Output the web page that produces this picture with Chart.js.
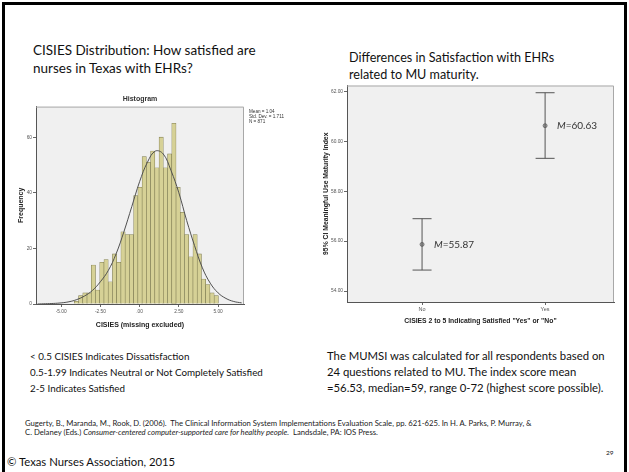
<!DOCTYPE html>
<html>
<head>
<meta charset="utf-8">
<script src="https://cdn.jsdelivr.net/npm/chart.js@4.4.0/dist/chart.umd.min.js"></script>
<style>
  body { margin: 0; width: 629px; height: 472px; position: relative; overflow: hidden; background: #fff; font-family: Lato, "Open Sans", sans-serif; }
  .slide { position: absolute; left: 2px; top: 2px; width: 625px; height: 520px; border: 3px solid #000; box-sizing: border-box; }
  .t { position: absolute; white-space: nowrap; color: #111; }
  .cite { font-size: 7.7px; line-height: 9px; color: #222; }
  #histWrap { position: absolute; left: 0; top: 60px; width: 315px; height: 280px; }
  #ciWrap { position: absolute; left: 315px; top: 75px; width: 314px; height: 265px; }
</style>
</head>
<body>
<div class="slide"></div>

<div class="t" style="left:33px;top:42px;font-size:13.5px;line-height:16px">CISIES Distribution: How satisfied are</div>
<div class="t" style="left:33px;top:60px;font-size:13.5px;line-height:16px">nurses in Texas with EHRs?</div>
<div class="t" style="left:349px;top:50px;font-size:12.6px;line-height:15px">Differences in Satisfaction with EHRs</div>
<div class="t" style="left:349px;top:67px;font-size:12.6px;line-height:15px">related to MU maturity.</div>

<div id="histWrap"><canvas id="histChart" width="315" height="280"></canvas></div>
<div id="ciWrap"><canvas id="ciChart" width="314" height="265"></canvas></div>

<div class="t" style="left:30px;top:350px;font-size:9.8px;line-height:12px">&lt; 0.5 CISIES Indicates Dissatisfaction</div>
<div class="t" style="left:30px;top:366px;font-size:9.8px;line-height:12px">0.5-1.99 Indicates Neutral or Not Completely Satisfied</div>
<div class="t" style="left:30px;top:382px;font-size:9.8px;line-height:12px">2-5 Indicates Satisfied</div>

<div class="t" style="left:327px;top:349px;font-size:11.3px;line-height:13px">The MUMSI was calculated for all respondents based on</div>
<div class="t" style="left:327px;top:365px;font-size:11.3px;line-height:13px">24 questions related to MU. The index score mean</div>
<div class="t" style="left:327px;top:381px;font-size:11.3px;line-height:13px">=56.53, median=59, range 0-72 (highest score possible).</div>

<div class="t cite" style="left:25px;top:419px">Gugerty, B., Maranda, M., Rook, D. (2006).&nbsp; The Clinical Information System Implementations Evaluation Scale, pp. 621-625. In H. A. Parks, P. Murray, &amp;</div>
<div class="t cite" style="left:25px;top:428px">C. Delaney (Eds.) <i>Consumer-centered computer-supported care for healthy people.</i>&nbsp; Landsdale, PA: IOS Press.</div>

<div class="t" style="left:606px;top:449px;font-size:6.5px">29</div>
<div class="t" style="left:7px;top:455px;font-size:11.3px">&copy; Texas Nurses Association, 2015</div>

<script>
// ---- histogram data (CISIES, missing excluded) ----
var binStart = -4.16;
var binWidth = 0.27;
var binCounts = [1, 3, 4, 4, 14, 5, 15, 16, 8, 18, 15, 26, 25, 25, 39, 42, 53, 51, 55, 49, 60, 49, 54, 65, 42, 33, 25, 17, 25, 18, 9, 7, 4, 3];
var histTicksX = [-5, -2.5, 0, 2.5, 5];
var histTicksY = [0, 20, 40, 60];
var statLines = ['Mean = 1.04', 'Std. Dev. = 1.711', 'N = 871'];

// normal curve
var curveX = [-6.5, -6, -5.5, -5, -4.5, -4, -3.5, -3, -2.5, -2, -1.5, -1, -0.5, 0, 0.5, 1, 1.5, 2, 2.5, 3, 3.5, 4, 4.5, 5, 5.5, 6, 6.5];
var curveY = [0, 0.1, 0.2, 0.4, 0.8, 1.6, 2.9, 4.9, 8, 12, 18, 26, 35, 44, 51, 55, 54, 48, 40, 30, 21, 13, 7.5, 4, 2, 0.9, 0.4];

// ---- error bar data (95% CI of MU maturity index) ----
var groups = ['No', 'Yes'];
var means = [55.87, 60.63];
var ciLow = [54.84, 59.32];
var ciHigh = [56.90, 61.95];
var ciTicksY = [54, 56, 58, 60, 62];

var spssFont = '"Liberation Sans", Arial, sans-serif';

// light grey plot area with a thin frame, like SPSS output
var plotFrame = {
    id: 'plotFrame',
    beforeDraw: function (chart) {
        var a = chart.chartArea, ctx = chart.ctx;
        ctx.save();
        ctx.fillStyle = '#f0f0f0';
        ctx.fillRect(a.left, a.top, a.right - a.left, a.bottom - a.top);
        ctx.restore();
    },
    afterDraw: function (chart) {
        var a = chart.chartArea, ctx = chart.ctx;
        ctx.save();
        ctx.strokeStyle = '#a8a8a8';
        ctx.lineWidth = 1;
        ctx.beginPath();
        ctx.moveTo(a.left, a.top + 0.5);
        ctx.lineTo(a.right - 0.5, a.top + 0.5);
        ctx.lineTo(a.right - 0.5, a.bottom);
        ctx.stroke();
        ctx.restore();
    }
};

// "Histogram" title and the stats box
var histText = {
    id: 'histText',
    afterDraw: function (chart) {
        var a = chart.chartArea, ctx = chart.ctx;
        ctx.save();
        ctx.fillStyle = '#333';
        ctx.textAlign = 'center';
        ctx.textBaseline = 'middle';
        ctx.font = 'bold 7px ' + spssFont;
        ctx.fillText('Histogram', (a.left + a.right) / 2, a.top - 8);
        ctx.textAlign = 'left';
        ctx.font = '4.6px ' + spssFont;
        statLines.forEach(function (s, i) {
            ctx.fillText(s, a.right + 5, a.top + 5 + i * 5);
        });
        ctx.restore();
    }
};

// M=xx.xx labels next to the means
var meanLabels = {
    id: 'meanLabels',
    afterDatasetsDraw: function (chart) {
        var ctx = chart.ctx, xs = chart.scales.x, ys = chart.scales.y;
        ctx.save();
        ctx.fillStyle = '#333';
        ctx.textBaseline = 'middle';
        means.forEach(function (m, i) {
            var px = xs.getPixelForValue(i + 1) + 12;
            var py = ys.getPixelForValue(m);
            ctx.font = 'italic 10px Lato, sans-serif';
            ctx.fillText('M', px, py);
            var w = ctx.measureText('M').width;
            ctx.font = '10px Lato, sans-serif';
            ctx.fillText('=' + m.toFixed(2), px + w, py);
        });
        ctx.restore();
    }
};

function fixTicks(list) {
    return function (scale) {
        scale.ticks = list.map(function (v) { return { value: v }; });
    };
}

function fmt2(v) {
    var s = Math.abs(v).toFixed(2);
    if (s.charAt(0) === '0') s = s.slice(1);
    return (v < 0 ? '-' : '') + s;
}

var histPoints = binCounts.map(function (c, i) {
    return { x: binStart + binWidth * (i + 0.5), y: c };
});
var curvePoints = curveX.map(function (x, i) {
    return { x: x, y: curveY[i] };
});

new Chart(document.getElementById('histChart'), {
    type: 'bar',
    data: {
        datasets: [{
            type: 'line',
            data: curvePoints,
            borderColor: '#505050',
            borderWidth: 1,
            pointRadius: 0,
            tension: 0.4,
            order: 0
        }, {
            type: 'bar',
            data: histPoints,
            backgroundColor: 'rgb(214, 209, 150)',
            borderColor: 'rgb(125, 122, 80)',
            borderWidth: 0.6,
            barPercentage: 1,
            categoryPercentage: 1,
            order: 1
        }]
    },
    options: {
        responsive: false,
        animation: false,
        devicePixelRatio: 1,
        layout: { padding: { left: 0, top: 46.6, right: 71, bottom: 0 } },
        plugins: { legend: { display: false }, tooltip: { enabled: false } },
        scales: {
            x: {
                type: 'linear',
                min: -6.6,
                max: 6.65,
                offset: false,
                afterBuildTicks: fixTicks(histTicksX),
                afterFit: function (s) { s.height = 36; },
                grid: { offset: false, drawOnChartArea: false, drawTicks: true, tickLength: 3, color: '#666' },
                border: { display: true, color: '#555', width: 1 },
                ticks: { padding: 2, color: '#555', font: { size: 4.8, family: spssFont }, maxRotation: 0, callback: fmt2 },
                title: { display: true, text: 'CISIES (missing excluded)', color: '#222',
                    font: { size: 7, weight: 'bold', family: spssFont }, padding: { top: 0, bottom: 11 } }
            },
            y: {
                min: 0,
                max: 71,
                afterBuildTicks: fixTicks(histTicksY),
                afterFit: function (s) { s.width = 36; },
                grid: { drawOnChartArea: false, drawTicks: true, tickLength: 3, color: '#666' },
                border: { display: true, color: '#555', width: 1 },
                ticks: { padding: 1, color: '#555', font: { size: 4.8, family: spssFont } },
                title: { display: true, text: 'Frequency', color: '#222',
                    font: { size: 7, weight: 'bold', family: spssFont }, padding: { top: 17, bottom: 0 } }
            }
        }
    },
    plugins: [plotFrame, histText]
});

var ciDatasets = groups.map(function (g, i) {
    return {
        type: 'line',
        data: [{ x: i + 1, y: ciLow[i] }, { x: i + 1, y: ciHigh[i] }],
        borderColor: '#555',
        borderWidth: 1,
        pointRadius: 0
    };
});
ciDatasets.push({
    type: 'scatter',
    data: groups.map(function (g, i) { return { x: i + 1, y: ciLow[i] }; })
        .concat(groups.map(function (g, i) { return { x: i + 1, y: ciHigh[i] }; })),
    pointStyle: 'line',
    pointRadius: 9.5,
    borderColor: '#555',
    borderWidth: 1
});
ciDatasets.push({
    type: 'scatter',
    data: means.map(function (m, i) { return { x: i + 1, y: m }; }),
    pointStyle: 'circle',
    pointRadius: 2,
    backgroundColor: '#a0a0a0',
    borderColor: '#666',
    borderWidth: 0.8
});

new Chart(document.getElementById('ciChart'), {
    type: 'scatter',
    data: { datasets: ciDatasets },
    options: {
        responsive: false,
        animation: false,
        devicePixelRatio: 1,
        layout: { padding: { left: 0, top: 10, right: 15, bottom: 0 } },
        plugins: { legend: { display: false }, tooltip: { enabled: false } },
        scales: {
            x: {
                type: 'linear',
                min: 0.39,
                max: 2.56,
                afterBuildTicks: fixTicks([1, 2]),
                afterFit: function (s) { s.height = 38; },
                grid: { drawOnChartArea: false, drawTicks: true, tickLength: 3, color: '#666' },
                border: { display: true, color: '#555', width: 1 },
                ticks: { padding: 1, color: '#555', font: { size: 5.5, family: spssFont },
                    callback: function (v) { return groups[v - 1]; } },
                title: { display: true, text: 'CISIES 2 to 5 Indicating Satisfied "Yes" or "No"', color: '#222',
                    font: { size: 6.8, weight: 'bold', family: spssFont }, padding: { top: 0, bottom: 15 } }
            },
            y: {
                min: 53.56,
                max: 62.24,
                afterBuildTicks: fixTicks(ciTicksY),
                afterFit: function (s) { s.width = 32; },
                grid: { drawOnChartArea: false, drawTicks: true, tickLength: 3, color: '#666' },
                border: { display: true, color: '#555', width: 1 },
                ticks: { padding: 1, color: '#555', font: { size: 4.8, family: spssFont },
                    callback: function (v) { return v.toFixed(2); } },
                title: { display: true, text: '95% CI Meaningful Use Maturity Index', color: '#222',
                    font: { size: 6.8, weight: 'bold', family: spssFont }, padding: { top: 7, bottom: 0 } }
            }
        }
    },
    plugins: [plotFrame, meanLabels]
});
</script>
</body>
</html>
